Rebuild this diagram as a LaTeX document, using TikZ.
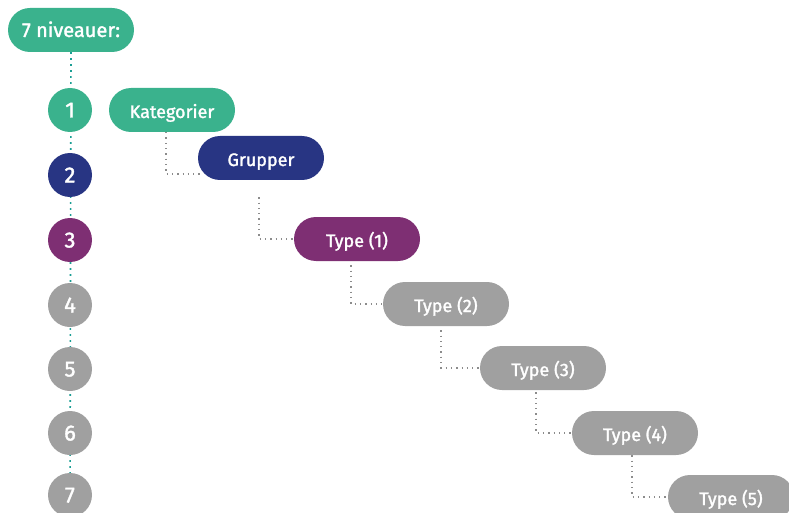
\documentclass[tikz,border=0pt]{standalone}
\usepackage{fontspec}
\setmainfont{Fira Sans}[FakeBold=1.6]
\usetikzlibrary{backgrounds}
\definecolor{tealfill}{HTML}{3AB28D}
\definecolor{navyfill}{HTML}{283583}
\definecolor{purplefill}{HTML}{7E2F73}
\definecolor{greyfill}{HTML}{A0A0A0}
\definecolor{dotteal}{HTML}{1A9E94}
\definecolor{dotgrey}{HTML}{8C8C8C}
\begin{document}
\begin{tikzpicture}[x=1pt,y=1pt,
 pill/.style={rectangle, rounded corners=22pt, minimum width=126pt, minimum height=44pt, inner sep=0pt, text=white, text height=16pt, text depth=0pt, font=\fontsize{18}{20}\selectfont},
 num/.style={circle, minimum size=44pt, inner sep=0pt, text=white, text height=15pt, text depth=0pt, font=\fontsize{22}{24}\selectfont},
 tdot/.style={draw=dotteal, line width=1.6pt, dash pattern=on 1.6pt off 4.4pt},
 gdot/.style={draw=dotgrey, line width=1.3pt, dash pattern=on 1.3pt off 4pt}]
\path[use as bounding box] (0,0) rectangle (789,-513);
\node[pill, fill=tealfill, text height=14pt, font=\fontsize{20}{22}\selectfont] (head) at (71,-30) {7 niveauer:};
\node[num, fill=tealfill] (n1) at (70,-110) {1};
\node[num, fill=navyfill] (n2) at (70,-175) {2};
\node[num, fill=purplefill] (n3) at (70,-240) {3};
\node[num, fill=greyfill] (n4) at (70,-305) {4};
\node[num, fill=greyfill] (n5) at (70,-369) {5};
\node[num, fill=greyfill] (n6) at (70,-433) {6};
\node[num, fill=greyfill] (n7) at (70,-495) {7};
\node[pill, fill=tealfill] (kat) at (172,-110) {Kategorier};
\node[pill, fill=navyfill] (grp) at (261,-158) {Grupper};
\node[pill, fill=purplefill] (t1) at (357,-239) {Type (1)};
\node[pill, fill=greyfill] (t2) at (446,-304) {Type (2)};
\node[pill, fill=greyfill] (t3) at (543,-368) {Type (3)};
\node[pill, fill=greyfill] (t4) at (635,-433) {Type (4)};
\node[pill, fill=greyfill] (t5) at (731,-497) {Type (5)};
\begin{scope}[on background layer]
\draw[tdot] (head.south) -- (n7.center);
\draw[gdot] ([xshift=-6pt]kat.south) |- ([xshift=4pt,yshift=-16pt]grp.west);
\draw[gdot] ([xshift=-2pt,yshift=-17pt]grp.south) |- (t1.west);
\draw[gdot] ([xshift=-6pt,yshift=-4pt]t1.south) |- (t2.west);
\draw[gdot] ([xshift=-5pt,yshift=-4pt]t2.south) |- (t3.west);
\draw[gdot] ([xshift=-7pt,yshift=-2pt]t3.south) |- (t4.west);
\draw[gdot] ([xshift=-3pt]t4.south) |- (t5.west);
\end{scope}
\end{tikzpicture}
\end{document}
